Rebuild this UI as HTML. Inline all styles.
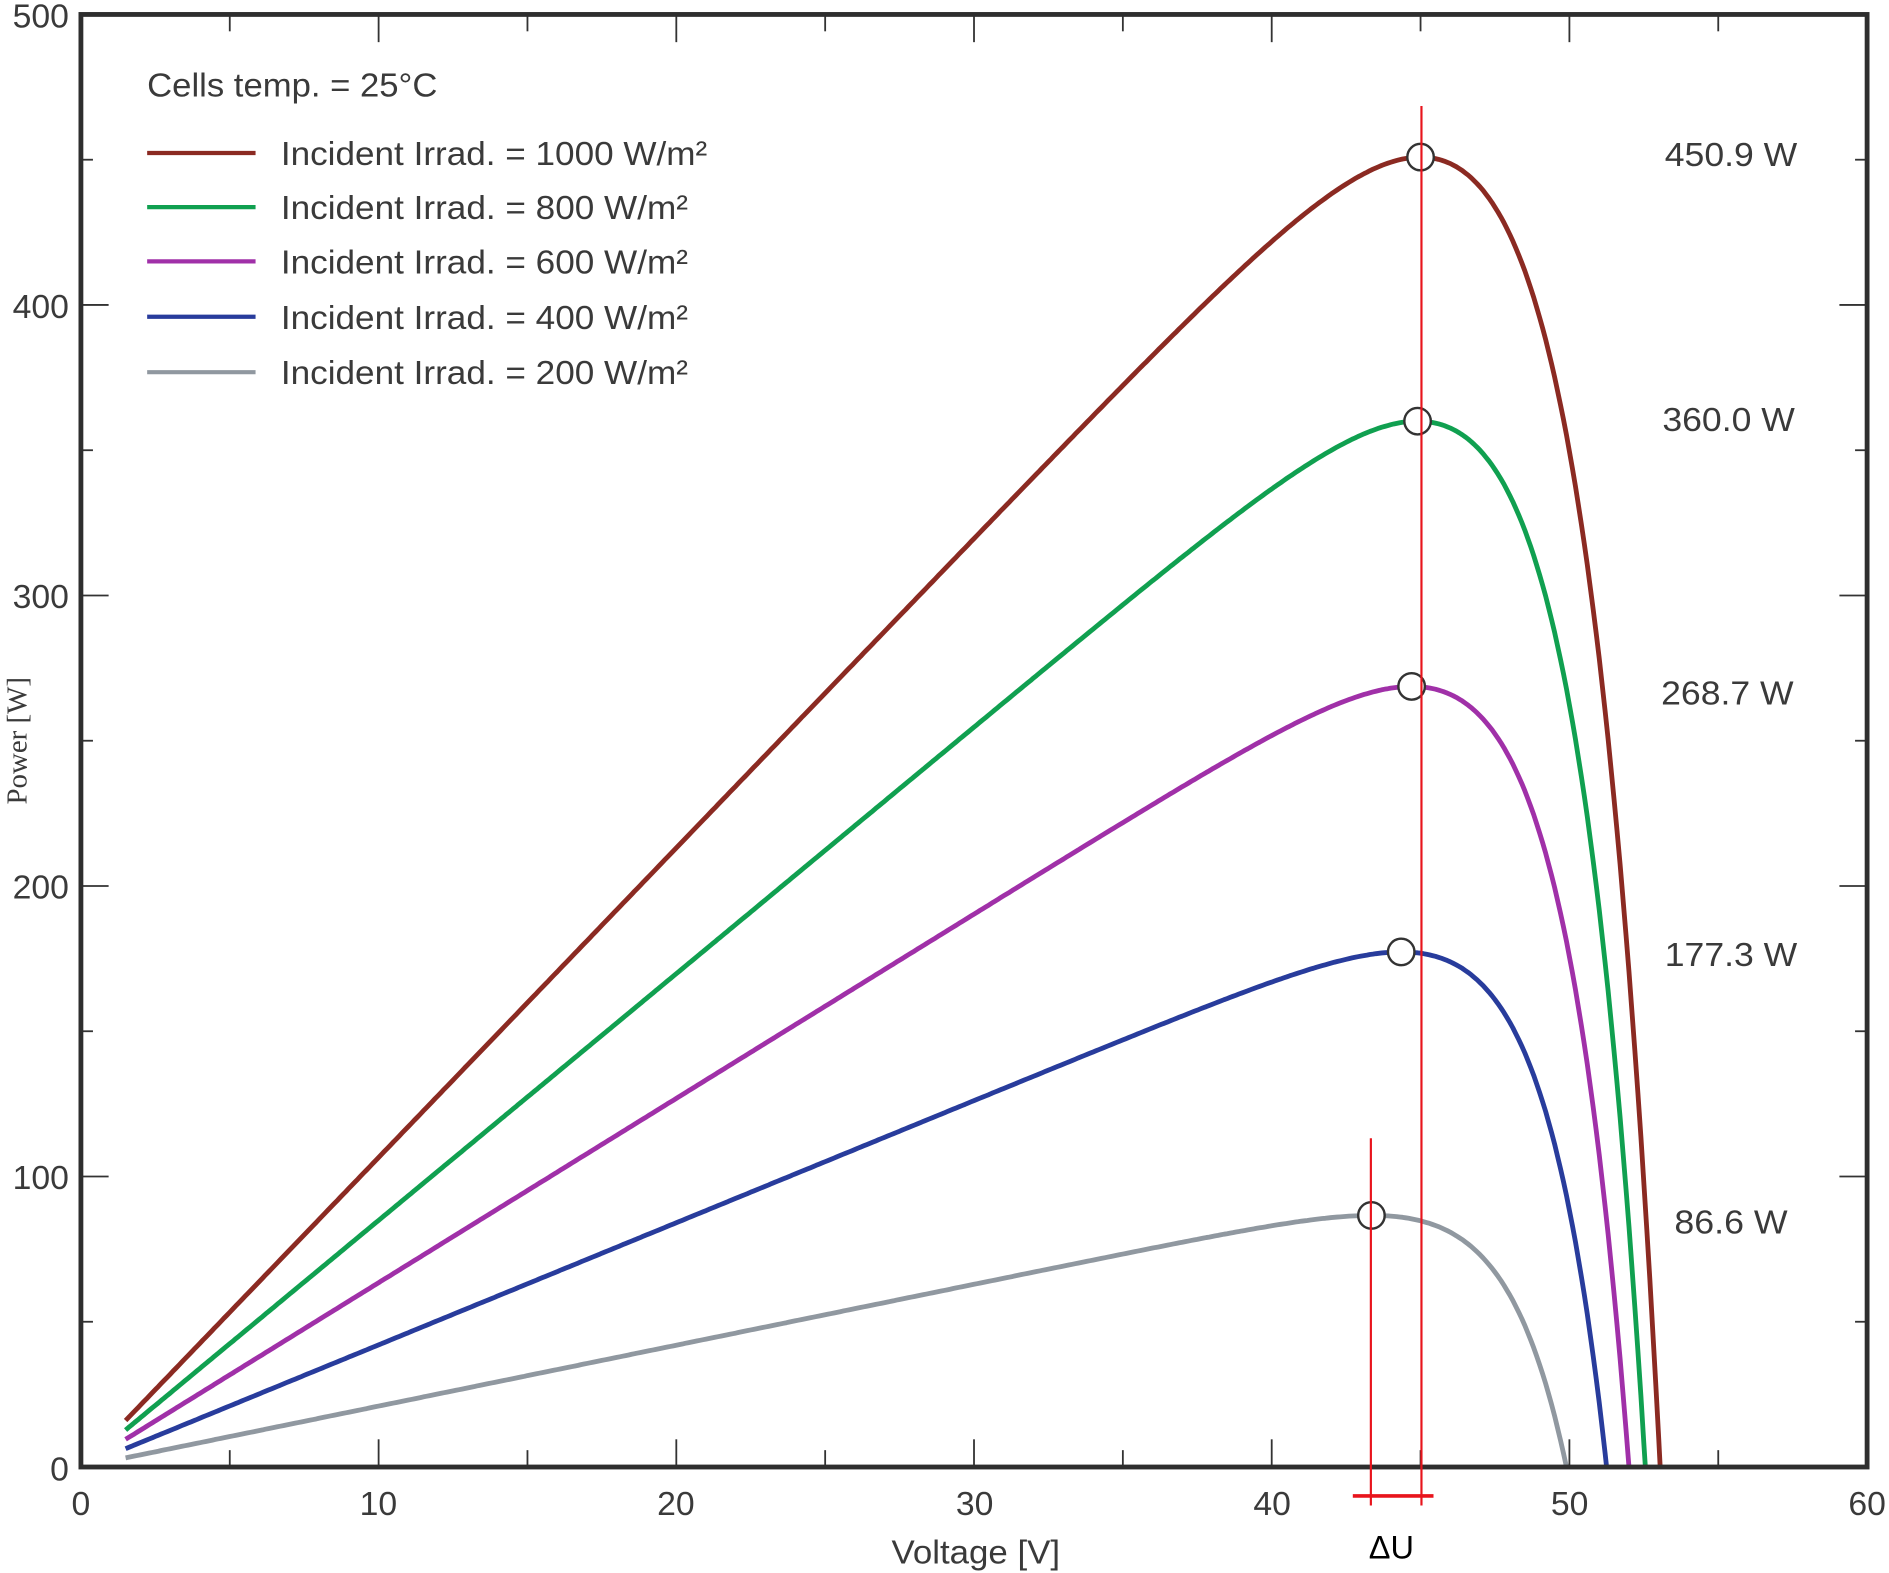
<!DOCTYPE html>
<html><head><meta charset="utf-8"><style>
html,body{margin:0;padding:0;background:#fff}
svg{display:block}
text{font-family:"Liberation Sans",sans-serif;fill:#3a3a3a}
</style></head><body>
<svg id="s" width="1889" height="1573" viewBox="0 0 1568 1306" xmlns="http://www.w3.org/2000/svg">
<rect width="1568" height="1306" fill="#fff"/>
<g id="ticks" stroke="#333" stroke-width="1.5"></g>
<g id="curves" fill="none" stroke-width="4" stroke-linejoin="round"></g>
<rect x="67" y="12" width="1483" height="1206" fill="none" stroke="#2e2e2e" stroke-width="4"/>
<g font-size="28" text-anchor="end">
<text x="57" y="23">500</text><text x="57" y="264">400</text><text x="57" y="505">300</text>
<text x="57" y="746">200</text><text x="57" y="987">100</text><text x="57" y="1229">0</text>
</g>
<g font-size="28" text-anchor="middle">
<text x="67" y="1258">0</text><text x="314" y="1258">10</text><text x="561" y="1258">20</text>
<text x="809" y="1258">30</text><text x="1056" y="1258">40</text><text x="1303" y="1258">50</text><text x="1550" y="1258">60</text>
<text x="810" y="1298" textLength="140" lengthAdjust="spacingAndGlyphs">Voltage [V]</text>
</g>
<text x="0" y="0" font-size="24" text-anchor="middle" transform="translate(22,615) rotate(-90)" style="font-family:'Liberation Serif',serif">Power [W]</text>
<g font-size="28" lengthAdjust="spacingAndGlyphs">
<text x="122" y="80" textLength="241" lengthAdjust="spacingAndGlyphs">Cells temp. = 25°C</text>
<text x="233" y="137" textLength="354" lengthAdjust="spacingAndGlyphs">Incident Irrad. = 1000 W/m²</text>
<text x="233" y="182" textLength="338" lengthAdjust="spacingAndGlyphs">Incident Irrad. = 800 W/m²</text>
<text x="233" y="227" textLength="338" lengthAdjust="spacingAndGlyphs">Incident Irrad. = 600 W/m²</text>
<text x="233" y="273" textLength="338" lengthAdjust="spacingAndGlyphs">Incident Irrad. = 400 W/m²</text>
<text x="233" y="319" textLength="338" lengthAdjust="spacingAndGlyphs">Incident Irrad. = 200 W/m²</text>
</g>
<g stroke-width="3.5">
<line x1="122" y1="127" x2="212" y2="127" stroke="#8B2A22"/>
<line x1="122" y1="172" x2="212" y2="172" stroke="#10A050"/>
<line x1="122" y1="217" x2="212" y2="217" stroke="#A030A8"/>
<line x1="122" y1="263" x2="212" y2="263" stroke="#283C9C"/>
<line x1="122" y1="309" x2="212" y2="309" stroke="#9098A0"/>
</g>
<g font-size="28" text-anchor="middle">
<text x="1437" y="138" textLength="110" lengthAdjust="spacingAndGlyphs">450.9 W</text>
<text x="1435" y="358" textLength="110" lengthAdjust="spacingAndGlyphs">360.0 W</text>
<text x="1434" y="585" textLength="110" lengthAdjust="spacingAndGlyphs">268.7 W</text>
<text x="1437" y="802" textLength="110" lengthAdjust="spacingAndGlyphs">177.3 W</text>
<text x="1437" y="1024" textLength="94" lengthAdjust="spacingAndGlyphs">86.6 W</text>
</g>
<g id="markers" fill="#fff" stroke="#333" stroke-width="2"></g>
<g stroke="#e8141c">
<line x1="1180" y1="88" x2="1180" y2="1250" stroke-width="1.8"/>
<line x1="1138" y1="945" x2="1138" y2="1250" stroke-width="1.8"/>
<line x1="1123" y1="1242" x2="1190" y2="1242" stroke-width="3"/>
</g>
<text x="1155" y="1294" font-size="27" text-anchor="middle" style="fill:#000">ΔU</text>
</svg>
<script>
var NS="http://www.w3.org/2000/svg";
function X(v){return 67+v*1483/60}
function Y(p){return 1218-p*1206/500}
function el(g,t,a){var e=document.createElementNS(NS,t);for(var k in a)e.setAttribute(k,a[k]);document.getElementById(g).appendChild(e);}
for(var v=5;v<60;v+=5){var L=(v%10==0)?23:14;
el("ticks","line",{x1:X(v),y1:1218,x2:X(v),y2:1218-L});
el("ticks","line",{x1:X(v),y1:12,x2:X(v),y2:12+L});}
for(var p=50;p<500;p+=50){var L=(p%100==0)?23:10;
el("ticks","line",{x1:67,y1:Y(p),x2:67+L,y2:Y(p)});
el("ticks","line",{x1:1550,y1:Y(p),x2:1550-L,y2:Y(p)});}
var S=[[53.05,45.0,450.9,"#8B2A22"],[52.55,44.9,360.0,"#10A050"],[52.0,44.7,268.7,"#A030A8"],[51.25,44.35,177.3,"#283C9C"],[49.9,43.35,86.6,"#9098A0"]];
S.forEach(function(s){
 var voc=s[0],vm=s[1],pm=s[2];
 var lo=0.5,hi=10;
 for(var i=0;i<60;i++){var a=(lo+hi)/2;var f=Math.exp(-(voc-vm)/a)*(1+vm/a)-1;if(f>0)hi=a;else lo=a;}
 var a=(lo+hi)/2;
 var isc=pm/(vm*(1-Math.exp((vm-voc)/a)));
 var d="";
 for(var v=1.5;v<=voc;v+=0.1){var P=v*isc*(1-Math.exp((v-voc)/a));d+=(d?"L":"M")+X(v).toFixed(1)+" "+Y(Math.max(P,0)).toFixed(1);}
 d+="L"+X(voc).toFixed(1)+" "+Y(0);
 el("curves","path",{d:d,stroke:s[3]});
 el("markers","circle",{cx:X(vm),cy:Y(pm),r:11});
});
</script>
</body></html>
